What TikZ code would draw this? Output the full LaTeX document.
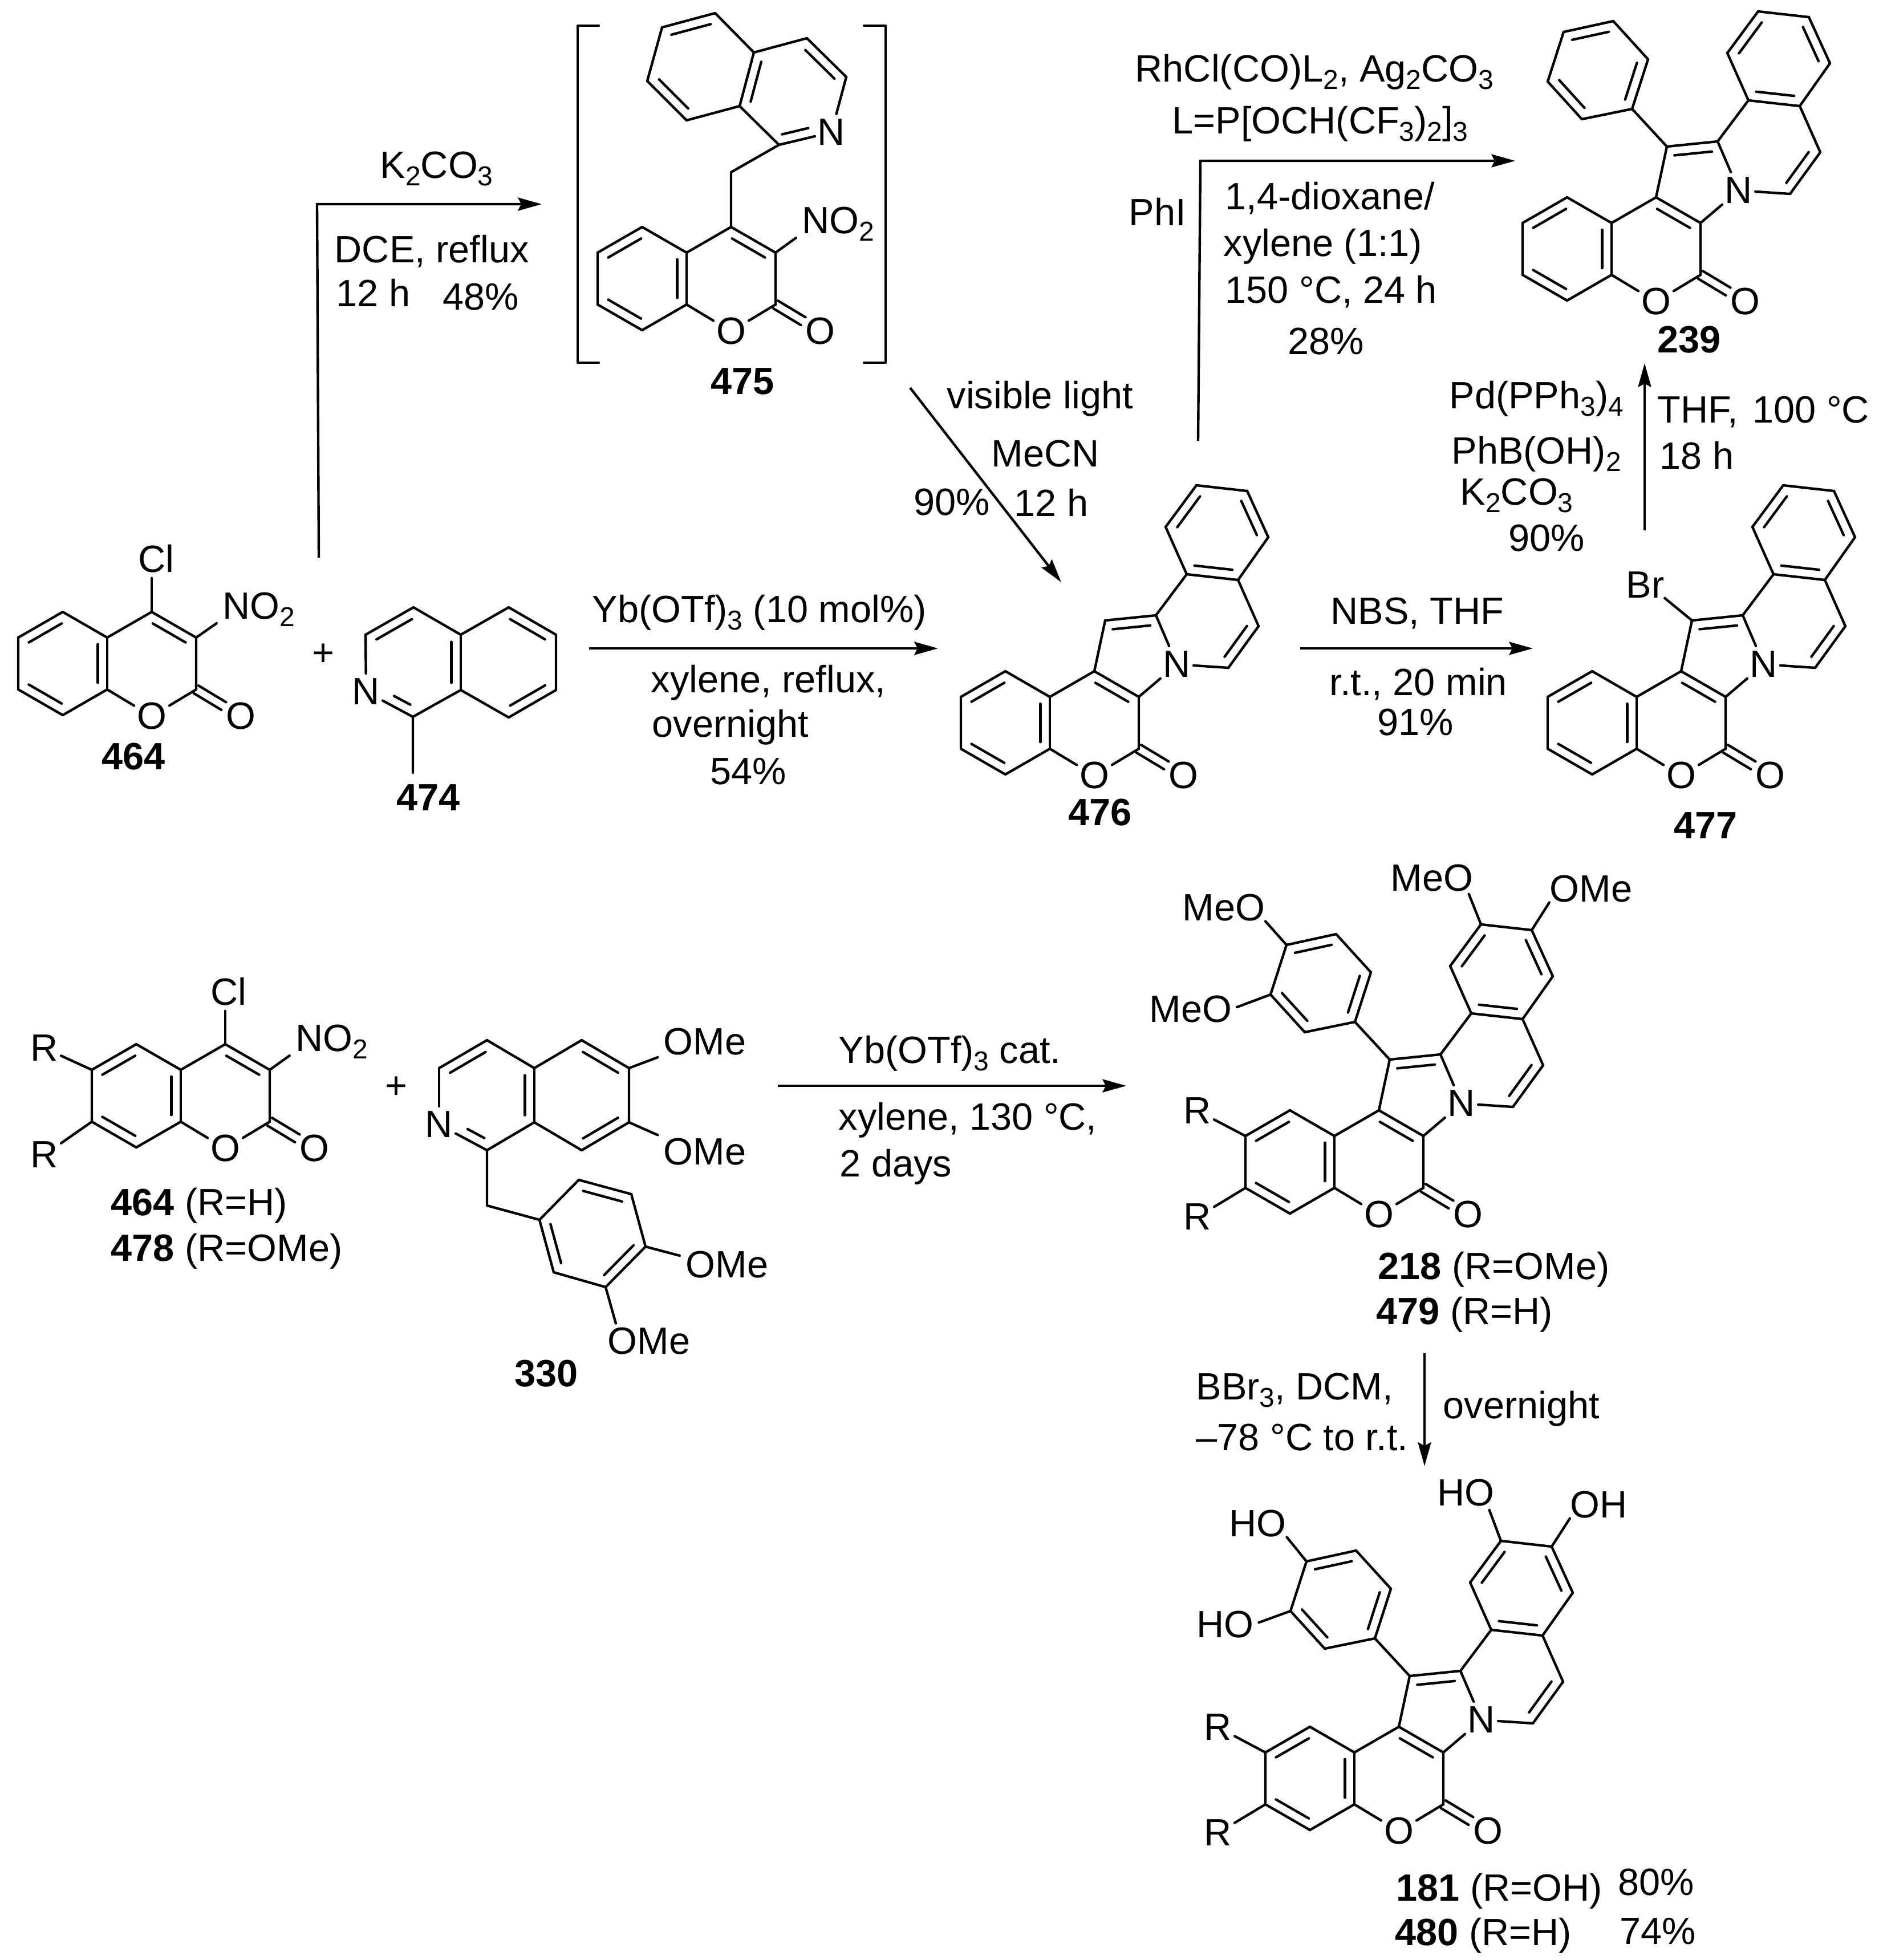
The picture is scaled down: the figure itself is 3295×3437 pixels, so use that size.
\documentclass[tikz,border=0pt]{standalone}
\usepackage{fontspec}
\setmainfont{Liberation Sans}
\usetikzlibrary{calc,arrows.meta}

\newcommand{\ssb}[1]{\raisebox{-3.2pt}{\fontsize{11.5}{12}\selectfont #1}}
\newcommand{\ibond}[4]{\draw[bond] ($(#1)!#3!(#2)!4pt!90:(#2)$) -- ($(#2)!#4!(#1)!4pt!-90:(#1)$);}
\newcommand{\dbl}[2]{\draw[bond] (#1) -- (#2); \ibond{#1}{#2}{.13}{.13}}
\newcommand{\cob}[2]{\draw[bond] ($(#1)!1.9pt!90:(#2)$) -- ($(#1)!.62!(#2)!1.9pt!90:(#2)$);
	\draw[bond] ($(#1)!1.9pt!-90:(#2)$) -- ($(#1)!.62!(#2)!1.9pt!-90:(#2)$);}
\newcommand{\cmring}{
	\foreach \n/\x/\y in {c4a/0/0,c8a/0/91,c5/-78/-45,c6/-156/0,c7/-156/91,c8/-78/136,c4/78/-45,c3/156/0,c2/156/91}
		{\coordinate (-\n) at (\x,\y);}
	\node [atom] (-o1) at (78,138) {O};
	\node [atom] (-o2) at (234,138) {O};
	\dbl{-c5}{-c6} \dbl{-c7}{-c8} \dbl{-c8a}{-c4a} \dbl{-c3}{-c4}
	\draw[bond] (-c6) -- (-c7) (-c8) -- (-c8a) (-c4a) -- (-c5) (-c4a) -- (-c4) (-c3) -- (-c2);
	\draw[bond] (-c8a) -- (-o1);
	\draw[bond] (-o1) -- (-c2);
	\cob{-c2}{-o2}
}

\tikzset{
	bond/.style={line width=1.05pt,line cap=round,line join=round},
	rxn/.style={line width=1.05pt,-{Stealth[length=10pt,width=5.5pt,inset=1.4pt]}},
	txt/.style={anchor=base west,inner sep=0pt,xshift=-.5pt,font=\fontsize{16}{19}\selectfont},
	nit/.style={txt,text depth=0pt},
	atom/.style={inner xsep=1pt,inner ysep=2pt,font=\fontsize{16}{19}\selectfont},
	coumarin/.pic={\cmring},
	core/.pic={
		\cmring
		\foreach \n/\x/\y in {py/97/-134,pz/186/-143,q1/313/-51,q2/366/-124,q3/330/-205,q4/240/-215,q5/203/-298,q6/257/-371,q7/346/-361,q8/383/-280}
			{\coordinate (-\n) at (\x,\y);}
		\node [atom] (-n) at (223,-57) {N};
		\dbl{-pz}{-py} \dbl{-q1}{-q2} \dbl{-q6}{-q5} \dbl{-q4}{-q3} \dbl{-q8}{-q7}
		\draw[bond] (-c4) -- (-py) (-pz) -- (-q4) (-q5) -- (-q4) (-q6) -- (-q7) (-q8) -- (-q3) (-q3) -- (-q2);
		\draw[bond] (-pz) -- (-n);
		\draw[bond] (-c3) -- (-n);
		\draw[bond] (-n) -- (-q1);
	},
	aryl/.pic={
		\foreach \n/\x/\y in {a1/36/-200,a2/-52/-182,a3/-112/-248,a4/-84/-335,a5/3/-354,a6/64/-287}
			{\coordinate (-\n) at (\x,\y);}
		\dbl{-a5}{-a4} \dbl{-a3}{-a2} \dbl{-a1}{-a6}
		\draw[bond] (-a4) -- (-a3) (-a2) -- (-a1) (-a6) -- (-a5);
	}
}

\begin{document}
\begin{tikzpicture}[x=.24pt,y=-.24pt]
\useasboundingbox (0,0) rectangle (3295,3437);

% 464 + 474
\pic (m464) at (188,1118) {coumarin};
\node [atom] (cl464) at (274,980) {Cl};
\draw[bond] (m464-c4) -- (m464-c4 |- cl464.south);
\node [nit] (no464) at (392,1085) {NO\ssb{2}};
\draw[bond,shorten >=3pt] (m464-c3) -- (no464.south west);
\node [txt] (lb464) at (180,1349) {\textbf{464}};
\node [atom] (plus1) at (567,1148) {+};
\foreach \n/\x/\y in {t3/641/1113,t4/725/1065,t4a/808/1113,t5/892/1065,t6/975/1113,t7/975/1210,t8/892/1258,t8a/808/1210,t1/724/1257,tme/724/1355}
	{\coordinate (\n) at (\x,\y);}
\node [atom] (tn) at (642,1213) {N};
\dbl{t4}{t3} \dbl{t8a}{t4a} \dbl{t6}{t5} \dbl{t8}{t7}
\draw[bond] (t4) -- (t4a) (t5) -- (t4a) (t6) -- (t7) (t8) -- (t8a) (t8a) -- (t1) (t1) -- (tme);
\draw[bond] (t3) -- (tn);
\draw[bond] (tn) -- (t1);
\ibond{tn}{t1}{.5}{.15}
\node [txt] (lb474) at (697,1421) {\textbf{474}};

% 475
\pic (m475) at (1204,443) {coumarin};
\foreach \n/\x/\y in {v3/1484/135,v4/1415/67,v4a/1322/92,v5/1254/23,v6/1161/48,v7/1135/142,v8/1204/211,v8a/1297/186,v1/1366/254,vc/1282/302}
	{\coordinate (\n) at (\x,\y);}
\node [atom] (vn) at (1458,232) {N};
\dbl{v3}{v4} \dbl{v5}{v6} \dbl{v7}{v8} \dbl{v4a}{v8a}
\draw[bond] (v4) -- (v4a) (v4a) -- (v5) (v6) -- (v7) (v8) -- (v8a) (v8a) -- (v1) (v1) -- (vc) (vc) -- (m475-c4);
\draw[bond] (v3) -- (vn);
\draw[bond] (v1) -- (vn);
\ibond{v1}{vn}{.1}{.4}
\node [nit] (no475) at (1408,409) {NO\ssb{2}};
\draw[bond,shorten >=3pt] (m475-c3) -- (no475.south west);
\draw[bond] (1050,45) -- (1013,45) -- (1013,636) -- (1050,636);
\draw[bond] (1515,45) -- (1553,45) -- (1553,636) -- (1515,636);
\node [txt] (lb475) at (1248,691) {\textbf{475}};

% 476, 477, 239
\pic (m476) at (1841,1222) {core};
\node [txt] (lb476) at (1875,1447) {\textbf{476}};
\pic (m477) at (2870,1222) {core};
\node [txt] (br477) at (2853,1048) {Br};
\draw[bond] (m477-py) -- (br477.south east);
\node [txt] (lb477) at (2937,1470) {\textbf{477}};
\pic (m239) at (2826,391) {core};
\pic (r239) at (2826,391) {aryl};
\draw[bond] (m239-py) -- (r239-a1);
\node [txt] (lb239) at (2908,618) {\textbf{239}};

% 478 + 330
\pic (m478) at (317,1876) {coumarin};
\node [atom] (cl478) at (401,1739) {Cl};
\draw[bond] (m478-c4) -- (m478-c4 |- cl478.south);
\node [nit] (no478) at (520,1843) {NO\ssb{2}};
\draw[bond,shorten >=3pt] (m478-c3) -- (no478.south west);
\node [atom] (r478a) at (78,1838) {R};
\node [atom] (r478b) at (78,2025) {R};
\draw[bond] (m478-c6) -- (r478a);
\draw[bond] (m478-c7) -- (r478b);
\node [txt] (lb464b) at (196,2131) {\textbf{464} (R=H)};
\node [txt] (lb478) at (196,2211) {\textbf{478} (R=OMe)};
\node [atom] (plus2) at (695,1907) {+};
\foreach \n/\x/\y in {u3/770/1873,u4/854/1824,u4a/937/1873,u8a/937/1968,u1/854/2017,u5/1020/1824,u6/1103/1873,u7/1103/1968,u8/1020/2017,uc/854/2114,w1/946/2139,w2/1015/2069,w3/1107/2094,w4/1132/2186,w5/1062/2257,w6/971/2231}
	{\coordinate (\n) at (\x,\y);}
\node [atom] (un) at (770,1972) {N};
\dbl{u4}{u3} \dbl{u8a}{u4a} \dbl{u6}{u5} \dbl{u8}{u7} \dbl{w3}{w2} \dbl{w1}{w6} \dbl{w5}{w4}
\draw[bond] (u4) -- (u4a) (u5) -- (u4a) (u6) -- (u7) (u8) -- (u8a) (u8a) -- (u1) (u1) -- (uc) (uc) -- (w1) (w1) -- (w2) (w3) -- (w4) (w5) -- (w6);
\draw[bond] (u3) -- (un);
\draw[bond] (un) -- (u1);
\ibond{un}{u1}{.5}{.15}
\node [txt] (ome1) at (1165,1849) {OMe};
\node [txt] (ome2) at (1165,2042) {OMe};
\node [txt] (ome3) at (1204,2240) {OMe};
\node [txt] (ome4) at (1067,2374) {OMe};
\draw[bond,shorten >=2.5pt] (u6) -- (ome1.south west);
\draw[bond,shorten >=2.5pt] (u7) -- (ome2.north west);
\draw[bond,shorten >=2.5pt] (w4) -- ([yshift=3pt]ome3.west);
\draw[bond,shorten >=1.5pt] (w5) -- ([xshift=4pt]ome4.north west);
\node [txt] (lb330) at (904,2431) {\textbf{330}};

% 218 / 479
\pic (m218) at (2340,1992) {core};
\pic (r218) at (2340,1992) {aryl};
\draw[bond] (m218-py) -- (r218-a1);
\node [atom] (r218a) at (2100,1948) {R};
\node [atom] (r218b) at (2100,2134) {R};
\draw[bond] (m218-c6) -- (r218a);
\draw[bond] (m218-c7) -- (r218b);
\node [txt] (meo1) at (2075,1614) {MeO};
\node [txt] (meo2) at (2017,1792) {MeO};
\node [txt] (meo3) at (2440,1562) {MeO};
\node [txt] (ome5) at (2719,1581) {OMe};
\draw[bond] (r218-a4) -- (meo1.south east);
\draw[bond,shorten >=2pt] (r218-a3) -- (meo2.east);
\draw[bond] (m218-q6) -- ([xshift=-2pt,yshift=-1pt]meo3.south east);
\draw[bond] (m218-q7) -- (ome5.south west);
\node [txt] (lb218) at (2418,2243) {\textbf{218} (R=OMe)};
\node [txt] (lb479) at (2415,2322) {\textbf{479} (R=H)};

% 181 / 480
\pic (m181) at (2375,3073) {core};
\pic (r181) at (2375,3073) {aryl};
\draw[bond] (m181-py) -- (r181-a1);
\node [atom] (r181a) at (2136,3029) {R};
\node [atom] (r181b) at (2136,3214) {R};
\draw[bond] (m181-c6) -- (r181a);
\draw[bond] (m181-c7) -- (r181b);
\node [txt] (ho1) at (2157,2694) {HO};
\node [txt] (ho2) at (2100,2871) {HO};
\node [txt] (ho3) at (2522,2640) {HO};
\node [txt] (oh4) at (2755,2661) {OH};
\draw[bond] (r181-a4) -- (ho1.south east);
\draw[bond,shorten >=2pt] (r181-a3) -- (ho2.east);
\draw[bond] (m181-q6) -- ([xshift=-2.4pt,yshift=-1.5pt]ho3.south east);
\draw[bond] (m181-q7) -- (oh4.south west);
\node [txt] (lb181) at (2450,3333) {\textbf{181} (R=OH)};
\node [txt] (lb480) at (2448,3411) {\textbf{480} (R=H)};
\node [txt] (y181) at (2839,3323) {80\%};
\node [txt] (y480) at (2842,3409) {74\%};

% arrows
\coordinate (s1) at (559,978);
\coordinate (s2) at (556,358);
\coordinate (s3) at (950,358);
\draw[rxn] (s1) -- (s2) -- (s3);
\coordinate (s4) at (1596,680);
\coordinate (s5) at (1861,1021);
\draw[rxn] (s4) -- (s5);
\coordinate (s6) at (2101,773);
\coordinate (s7) at (2105,282);
\coordinate (s8) at (2657,282);
\draw[rxn] (s6) -- (s7) -- (s8);
\coordinate (s9) at (1033,1137);
\coordinate (s10) at (1645,1137);
\draw[rxn] (s9) -- (s10);
\coordinate (s11) at (2280,1137);
\coordinate (s12) at (2688,1137);
\draw[rxn] (s11) -- (s12);
\coordinate (s13) at (2884,930);
\coordinate (s14) at (2884,637);
\draw[rxn] (s13) -- (s14);
\coordinate (s15) at (1364,1904);
\coordinate (s16) at (1975,1904);
\draw[rxn] (s15) -- (s16);
\coordinate (s17) at (2498,2373);
\coordinate (s18) at (2498,2571);
\draw[rxn] (s17) -- (s18);

% conditions
\node [txt] (k1) at (668,312) {K\ssb{2}CO\ssb{3}};
\node [txt] (dce) at (588,460) {DCE, reflux};
\node [txt] (h12a) at (591,537) {12 h};
\node [txt] (y48) at (778,543) {48\%};
\node [txt] (rh) at (1992,143) {RhCl(CO)L\ssb{2}, Ag\ssb{2}CO\ssb{3}};
\node [txt] (lig) at (2057,234) {L=P[OCH(CF\ssb{3})\ssb{2}]\ssb{3}};
\node [txt] (phi) at (1981,395) {PhI};
\node [txt] (dio) at (2150,367) {1,4-dioxane/};
\node [txt] (xyl1) at (2147,449) {xylene (1:1)};
\node [txt] (t150) at (2150,531) {150 °C, 24 h};
\node [txt] (y28) at (2260,621) {28\%};
\node [txt] (vis) at (1662,716) {visible light};
\node [txt] (mecn) at (1740,818) {MeCN};
\node [txt] (y90a) at (1604,903) {90\%};
\node [txt] (h12b) at (1780,905) {12 h};
\node [txt] (yb1) at (1040,1091) {Yb(OTf)\ssb{3} (10 mol\%)};
\node [txt] (xyl2) at (1143,1214) {xylene, reflux,};
\node [txt] (ov1) at (1145,1292) {overnight};
\node [txt] (y54) at (1247,1375) {54\%};
\node [txt] (nbs) at (2335,1094) {NBS, THF};
\node [txt] (rt) at (2333,1219) {r.t., 20 min};
\node [txt] (y91) at (2417,1289) {91\%};
\node [txt] (pd) at (2543,716) {Pd(PPh\ssb{3})\ssb{4}};
\node [txt] (phb) at (2547,813) {PhB(OH)\ssb{2}};
\node [txt] (k2) at (2562,885) {K\ssb{2}CO\ssb{3}};
\node [txt] (y90b) at (2647,966) {90\%};
\node [txt] (thf) at (2908,741) {THF,\ \hspace{1.8pt}100 °C};
\node [txt] (h18) at (2912,822) {18 h};
\node [txt] (yb2) at (1472,1864) {Yb(OTf)\ssb{3} cat.};
\node [txt] (xyl3) at (1472,1981) {xylene, 130 °C,};
\node [txt] (d2) at (1474,2063) {2 days};
\node [txt] (bbr) at (2099,2454) {BBr\ssb{3}, DCM,};
\node [txt] (t78) at (2099,2543) {–78 °C to r.t.};
\node [txt] (ov2) at (2532,2487) {overnight};
\end{tikzpicture}
\end{document}
